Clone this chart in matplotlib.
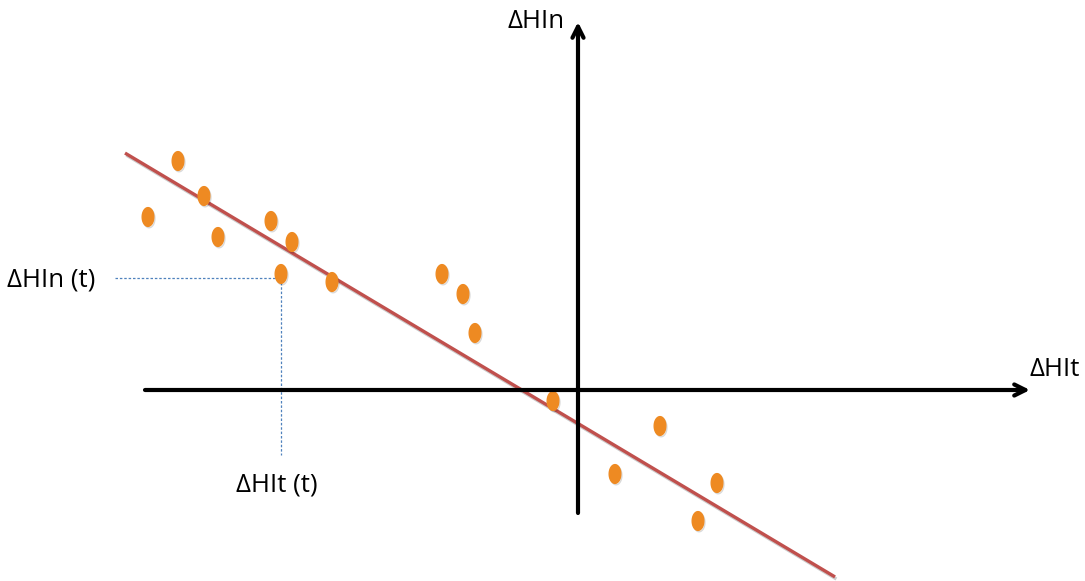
import numpy as np
import matplotlib
matplotlib.use('Agg')
import matplotlib.pyplot as plt
import matplotlib.patheffects as pe
from matplotlib.path import Path

# observations (relative to axis origin, y up)
hit = [-430, -400, -374, -360, -307, -286, -297, -246, -136, -115, -103, -25, 37, 82, 139, 120]
hin = [173, 229, 194, 153, 169, 148, 116, 108, 116, 96, 57, -11, -84, -36, -93, -131]
# fitted line
slope = -0.597
intercept = -33.5
line_x = [-453, 257]
# highlighted point t
t_point = (-297, 112)

ORANGE = '#ee8a22'; RED = '#c0504d'; BLUE = '#4f81bd'
plt.rcParams['font.family'] = ['Open Sans', 'DejaVu Sans']

fig = plt.figure(figsize=(10.85, 5.81), dpi=100)
ax = fig.add_axes([0, 0, 1, 1])
ax.set_xlim(-578, 507)
ax.set_ylim(-191, 390)
ax.axis('off')

# axes with arrows
arrow = dict(arrowstyle='->,head_length=0.8,head_width=0.4', color='black', lw=3,
             shrinkA=0, shrinkB=0)
ax.annotate('', xy=(452, 0), xytext=(-433, 0), arrowprops=arrow)
ax.annotate('', xy=(0, 368), xytext=(0, -123), arrowprops=arrow)

# guide lines for point t
ax.plot([-463, t_point[0]], [t_point[1], t_point[1]], color=BLUE, lw=0.9, ls=(0, (2, 1.5)))
ax.plot([t_point[0], t_point[0]], [t_point[1], -65], color=BLUE, lw=0.9, ls=(0, (2, 1.5)))

# regression line
lx = np.array(line_x)
ax.plot(lx, slope * lx + intercept, color=RED, lw=2.4, solid_capstyle='butt',
        path_effects=[pe.SimpleLineShadow(offset=(1, -1.5), alpha=0.2), pe.Normal()])

# elliptical dots
t = np.linspace(0, 2 * np.pi, 60)
ell = Path(np.column_stack([0.62 * np.cos(t), np.sin(t)]), closed=True)
ax.plot(hit, hin, ls='none', marker=ell, ms=13.5, color=ORANGE, mec=ORANGE,
        path_effects=[pe.SimpleLineShadow(offset=(0.8, -1), alpha=0.15), pe.Normal()])

fs = 18.5
ax.text(-71, 369, 'ΔHIn', fontsize=fs, ha='left', va='center')
ax.text(451, 21, 'ΔHIt', fontsize=fs, ha='left', va='center')
ax.text(-571, t_point[1] - 2, 'ΔHIn (t)', fontsize=fs, ha='left', va='center')
ax.text(t_point[0] - 4, -95, 'ΔHIt (t)', fontsize=fs, ha='center', va='center')

fig.savefig('out.png', dpi=100)
